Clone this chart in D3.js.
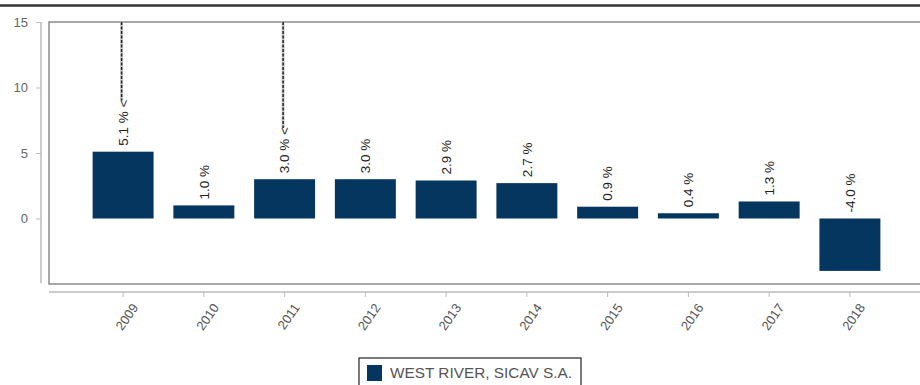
<!DOCTYPE html>
<html lang="en">
<head>
    <meta charset="UTF-8">
    <title>West River</title>
    <style>
        body { margin: 0; background: #fff; }
        text { font-family: "Liberation Sans", Arial, sans-serif; }
    </style>
</head>
<body>
<script src="https://d3js.org/d3.v7.min.js"></script>
<script>
    const years = ["2009", "2010", "2011", "2012", "2013", "2014", "2015", "2016", "2017", "2018"];
    const returns = [5.1, 1.0, 3.0, 3.0, 2.9, 2.7, 0.9, 0.4, 1.3, -4.0];
    const flagged = ["2009", "2011"];
    const yTicks = [0, 5, 10, 15];
    const seriesName = "WEST RIVER, SICAV S.A.";

    const width = 920, height = 385;
    const plotLeft = 49, plotRight = 924, plotTop = 22, plotBottom = 284;
    const barColor = "#05365f";

    const data = years.map((y, i) => ({year: y, value: returns[i]}));

    const svg = d3.select("body").append("svg")
        .attr("width", width)
        .attr("height", height);

    // header rule
    svg.append("line")
        .attr("x1", 0).attr("x2", width).attr("y1", 5.5).attr("y2", 5.5)
        .attr("stroke", "#333").attr("stroke-width", 2.5);

    const x = d3.scaleBand()
        .domain(years)
        .range([plotLeft, plotRight])
        .paddingInner(0.245)
        .paddingOuter(0.54);

    const y = d3.scaleLinear()
        .domain([-5, 15])
        .range([plotBottom, plotTop]);

    // plot frame
    svg.append("rect")
        .attr("x", plotLeft).attr("y", plotTop)
        .attr("width", plotRight - plotLeft).attr("height", plotBottom - plotTop)
        .attr("fill", "none").attr("stroke", "#8a8a8a").attr("stroke-width", 1.5);

    // y axis
    const yAxis = svg.append("g")
        .attr("transform", "translate(41,0)")
        .call(d3.axisLeft(y).tickValues(yTicks).tickSize(5).tickPadding(8));
    yAxis.select(".domain").attr("stroke", "#bbb").attr("stroke-width", 1.5)
        .attr("d", `M0,${plotTop}V${plotBottom - 1}`);
    yAxis.selectAll(".tick line").attr("stroke", "#bbb");
    yAxis.selectAll(".tick text")
        .attr("fill", "#666").attr("font-size", 13)
        .attr("font-family", "Liberation Sans, Arial, sans-serif");

    // x axis
    const xAxis = svg.append("g")
        .attr("transform", "translate(0,292)")
        .call(d3.axisBottom(x).tickSize(5).tickSizeOuter(0));
    xAxis.select(".domain").attr("stroke", "#bbb").attr("stroke-width", 1.5)
        .attr("d", `M${plotLeft},0H${width}`);
    xAxis.selectAll(".tick line").attr("stroke", "#bbb");
    xAxis.selectAll(".tick text")
        .attr("fill", "#555").attr("font-size", 13)
        .attr("font-family", "Liberation Sans, Arial, sans-serif")
        .attr("text-anchor", "end")
        .attr("dy", "0.35em")
        .attr("transform", "translate(12,13) rotate(-55)")
        .attr("y", 0);

    // bars
    svg.selectAll("rect.bar")
        .data(data)
        .enter()
        .append("rect")
        .attr("class", "bar")
        .attr("x", d => x(d.year))
        .attr("y", d => y(Math.max(0, d.value)))
        .attr("width", x.bandwidth())
        .attr("height", d => Math.abs(y(d.value) - y(0)))
        .attr("fill", barColor);

    // value labels
    const labels = svg.selectAll("text.val")
        .data(data)
        .enter()
        .append("text")
        .attr("class", "val")
        .attr("transform", d => `translate(${x(d.year) + x.bandwidth() / 2},${y(Math.max(0, d.value)) - 6}) rotate(-90)`)
        .attr("dy", "0.35em")
        .attr("font-size", 13.5)
        .attr("fill", "#222")
        .text(d => d.value.toFixed(1) + " %" + (flagged.includes(d.year) ? " <" : ""));

    // dashed leaders from flagged labels to the top of the plot
    labels.each(function (d) {
        if (!flagged.includes(d.year)) return;
        const len = this.getComputedTextLength();
        const cx = x(d.year) + x.bandwidth() / 2 - 1.5;
        const yEnd = y(Math.max(0, d.value)) - 6 - len;
        svg.append("line")
            .attr("x1", cx).attr("x2", cx).attr("y1", plotTop).attr("y2", yEnd + 1)
            .attr("stroke", "#ccc").attr("stroke-width", 3);
        svg.append("line")
            .attr("x1", cx).attr("x2", cx).attr("y1", plotTop).attr("y2", yEnd + 1)
            .attr("stroke", "#222").attr("stroke-width", 1.5)
            .attr("stroke-dasharray", "3,1.5");
    });

    // legend
    const legend = svg.append("g").attr("transform", "translate(359,358)");
    legend.append("rect")
        .attr("x", 0).attr("y", 0).attr("width", 222).attr("height", 40)
        .attr("fill", "#fff").attr("stroke", "#222").attr("stroke-width", 1.2);
    legend.append("rect")
        .attr("x", 8).attr("y", 7).attr("width", 15).attr("height", 16)
        .attr("fill", barColor);
    legend.append("text")
        .attr("x", 31).attr("y", 20)
        .attr("font-size", 14.5)
        .attr("fill", "#555")
        .attr("textLength", 182)
        .attr("lengthAdjust", "spacingAndGlyphs")
        .text(seriesName);
</script>
</body>
</html>
